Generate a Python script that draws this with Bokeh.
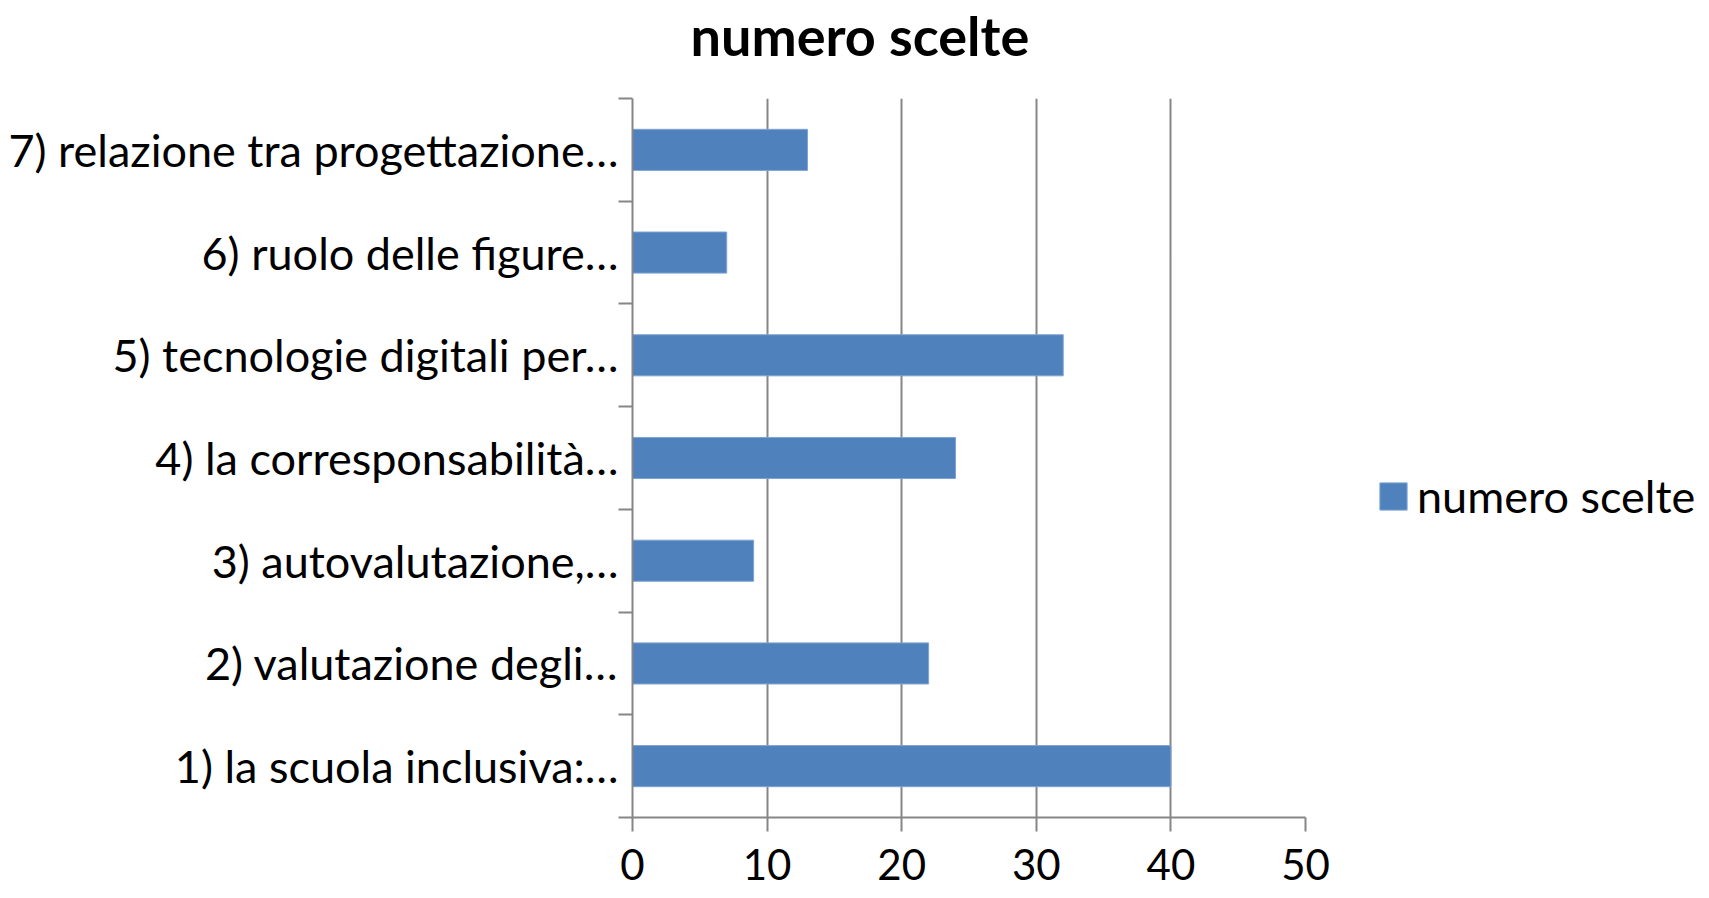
from bokeh.plotting import figure
from bokeh.models import FixedTicker, Legend, LegendItem, Range1d
from bokeh.embed import file_html
from bokeh.resources import INLINE

categories = [
    "1) la scuola inclusiva:…",
    "2) valutazione degli…",
    "3) autovalutazione,…",
    "4) la corresponsabilità…",
    "5) tecnologie digitali per…",
    "6) ruolo delle figure…",
    "7) relazione tra progettazione…",
]
values = [40, 22, 9, 24, 32, 7, 13]
x_ticks = [0, 10, 20, 30, 40, 50]
series_name = "numero scelte"
chart_title = "numero scelte"

FONT = "Lato"
GRAY = "#868686"

positions = [i + 0.5 for i in range(len(categories))]

p = figure(
    width=1709, height=898,
    frame_width=673, frame_height=719,
    min_border_left=632, min_border_top=98, min_border_right=404, min_border_bottom=81,
    x_range=Range1d(0, 50), y_range=Range1d(0, len(categories)),
    output_backend="svg", toolbar_location=None, tools="",
    title=chart_title,
)
p.outline_line_color = None
p.background_fill_color = "white"
p.border_fill_color = "white"

p.title.text_font = FONT
p.title.text_font_style = "bold"
p.title.text_font_size = "54px"
p.title.text_color = "black"
p.title.align = "left"
p.title.vertical_align = "bottom"
p.title.offset = 58
p.title.standoff = 0
p.title.padding = (0, 0, 0, 31)

r = p.hbar(y=positions, right=values, left=0, height=0.4,
           fill_color="#4F81BD", line_color="#7FA3D3", line_width=1)

# x axis
p.xaxis.ticker = FixedTicker(ticks=x_ticks)
p.xaxis.axis_line_color = GRAY
p.xaxis.axis_line_width = 2
p.xaxis.major_tick_line_color = GRAY
p.xaxis.major_tick_line_width = 2
p.xaxis.major_tick_in = 0
p.xaxis.major_tick_out = 14
p.xaxis.minor_tick_line_color = None
p.xaxis.major_label_text_font = FONT
p.xaxis.major_label_text_font_size = "42px"
p.xaxis.major_label_text_color = "black"
p.xaxis.major_label_standoff = 17

# y axis
p.yaxis.ticker = FixedTicker(ticks=positions, minor_ticks=list(range(len(categories) + 1)))
p.yaxis.major_label_overrides = {pos: lab for pos, lab in zip(positions, categories)}
p.yaxis.axis_line_color = GRAY
p.yaxis.axis_line_width = 2
p.yaxis.major_tick_line_color = None
p.yaxis.major_tick_in = 0
p.yaxis.major_tick_out = 0
p.yaxis.minor_tick_line_color = GRAY
p.yaxis.minor_tick_line_width = 2
p.yaxis.minor_tick_in = 0
p.yaxis.minor_tick_out = 14
p.yaxis.major_label_text_font = FONT
p.yaxis.major_label_text_font_size = "45px"
p.yaxis.major_label_text_color = "black"
p.yaxis.major_label_standoff = 0

p.xgrid.ticker = FixedTicker(ticks=x_ticks)
p.xgrid.grid_line_color = GRAY
p.xgrid.grid_line_width = 2
p.ygrid.grid_line_color = None

legend = Legend(items=[LegendItem(label=series_name, renderers=[r])],
                location=(71, 294))
legend.border_line_color = None
legend.background_fill_alpha = 0
legend.padding = 0
legend.margin = 0
legend.glyph_width = 34
legend.glyph_height = 34
legend.label_height = 34
legend.label_standoff = 7
legend.label_text_font = FONT
legend.label_text_font_size = "45px"
legend.label_text_color = "black"
legend.label_text_baseline = "middle"
p.add_layout(legend, "right")

open("out.html", "w").write(file_html(p, INLINE))
